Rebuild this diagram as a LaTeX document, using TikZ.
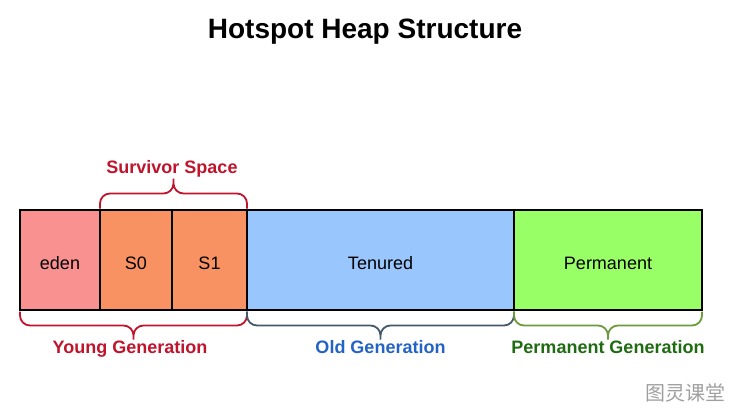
\documentclass[tikz,border=0pt]{standalone}
\usepackage{fontspec}
\setmainfont{Liberation Sans}
\newfontfamily\cjkfont{Noto Sans CJK SC}
\usetikzlibrary{positioning,calc}
\definecolor{edencolor}{HTML}{F99191}
\definecolor{survcolor}{HTML}{F99262}
\definecolor{tenuredcolor}{HTML}{99C7FD}
\definecolor{permcolor}{HTML}{99FF66}
\definecolor{youngred}{HTML}{C0142C}
\definecolor{oldbrace}{HTML}{44596B}
\definecolor{oldblue}{HTML}{2463C6}
\definecolor{permbrace}{HTML}{6A9C3C}
\definecolor{permgreen}{HTML}{1F6B12}

\begin{document}
\begin{tikzpicture}[x=1pt, y=-1pt, every node/.style={inner sep=0pt, outer sep=0pt},
    heapbox/.style={draw=black, line width=2.6pt, minimum height=100pt, text height=19pt, text depth=0pt,
                    font=\fontsize{18}{21}\selectfont},
    heaplabel/.style={anchor=base, font=\bfseries\fontsize{18}{21}\selectfont},
    heapbrace/.style={line width=1.8pt, rounded corners=10pt,
      to path={let \p1=(\tikztostart), \p2=(\tikztotarget) in
        (\p1) -- (\x1,{\y1+(#1)}) -- ({(\x1+\x2)/2},{\y1+(#1)}) -- ({(\x1+\x2)/2},{\y1+2*(#1)})
        (\p2) -- (\x2,{\y2+(#1)}) -- ({(\x1+\x2)/2},{\y2+(#1)}) -- ({(\x1+\x2)/2},{\y2+2*(#1)})}}]
  \useasboundingbox (0,0) rectangle (735,413);

  \node[anchor=base, font=\bfseries\fontsize{28}{32}\selectfont] (title) at (365,38) {Hotspot Heap Structure};

  % heap regions
  \node[heapbox, fill=edencolor, minimum width=80pt, anchor=north west] (eden) at (20,210) {eden};
  \node[heapbox, fill=survcolor, minimum width=72pt, right=0pt of eden] (s0) {S0};
  \node[heapbox, fill=survcolor, minimum width=75pt, right=0pt of s0] (s1) {S1};
  \node[heapbox, fill=tenuredcolor, minimum width=267pt, right=0pt of s1] (tenured) {Tenured};
  \node[heapbox, fill=permcolor, minimum width=188pt, right=0pt of tenured] (perm) {Permanent};

  % braces
  \draw[heapbrace=15pt, youngred] ([yshift=1.5pt]s0.north west) to ([yshift=1.5pt]s1.north east);
  \draw[heapbrace=-14pt, youngred] ([yshift=-1.5pt]eden.south west) to ([yshift=-1.5pt]s1.south east);
  \draw[heapbrace=-14pt, oldbrace] ([yshift=-1.5pt]tenured.south west) to ([yshift=-1.5pt]tenured.south east);
  \draw[heapbrace=-14pt, permbrace] ([yshift=-1.5pt]perm.south west) to ([yshift=-1.5pt]perm.south east);

  \node[heaplabel, text=youngred] (survlabel) at (172,173) {Survivor Space};
  \node[heaplabel, text=youngred] (younglabel) at (130,353) {Young Generation};
  \node[heaplabel, text=oldblue] (oldlabel) at (380.5,353) {Old Generation};
  \node[heaplabel, text=permgreen] (permlabel) at (608,353) {Permanent Generation};

  \node[font=\cjkfont\fontsize{20}{20}\selectfont, text=gray!75] (mark) at (685,393) {图灵课堂};
\end{tikzpicture}
\end{document}
